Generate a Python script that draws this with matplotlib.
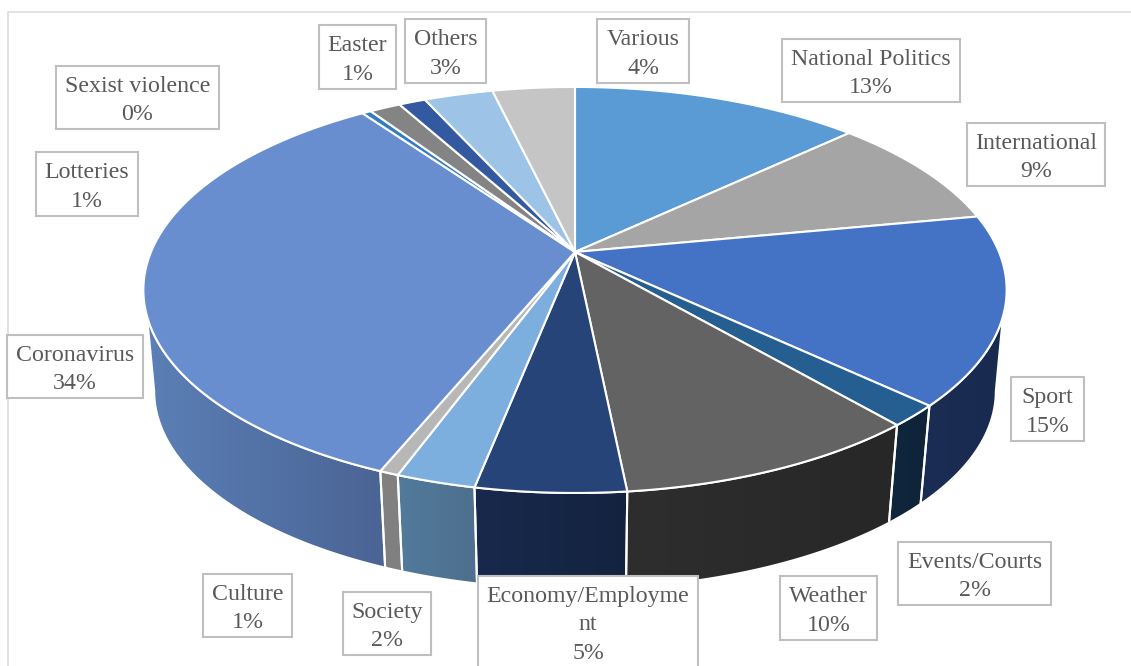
import numpy as np
import matplotlib
matplotlib.use('Agg')
import matplotlib.pyplot as plt
from matplotlib.patches import Polygon, Rectangle
from matplotlib.colors import to_rgb

plt.rcParams['font.family'] = ['Liberation Serif', 'DejaVu Serif']

# Slices, clockwise from 12 o'clock
categories = ['National Politics', 'International', 'Sport', 'Events/Courts', 'Weather',
              'Economy/Employme\nnt', 'Society', 'Culture', 'Coronavirus', 'Sexist violence',
              'Lotteries', 'Easter', 'Others', 'Various']
shares = [13.0, 9.0, 15.0, 1.7, 9.7, 4.7, 2.5, 0.6, 34.0, 0.4, 1.4, 1.2, 3.1, 3.7]

top_colors = ['#5b9bd5', '#a5a5a5', '#4472c4', '#255e91', '#636363', '#264478', '#7cafdd',
              '#b7b7b7', '#698ed0', '#327dc2', '#848484', '#335aa1', '#9dc3e6', '#c5c5c5']
wall_left = ['#3c6a94', '#707070', '#1b2d54', '#10263c', '#2e2e2e', '#18294d', '#527a9b',
             '#808080', '#5b7fb6', '#245a8a', '#5a5a5a', '#223d6e', '#6c86a0', '#888888']
wall_right = ['#3c6a94', '#707070', '#182a4e', '#0f2439', '#272727', '#13233f', '#4e6f8e',
              '#808080', '#4a6494', '#245a8a', '#5a5a5a', '#223d6e', '#6c86a0', '#888888']

# label boxes in pixels: left, top, right, bottom
label_boxes = [(782, 39, 960, 102), (967, 123, 1105, 186), (1011, 377, 1084, 441),
               (898, 542, 1051, 605), (780, 576, 877, 640), (478, 576, 698, 668),
               (343, 592, 431, 655), (203, 574, 292, 637), (7, 335, 143, 398),
               (56, 66, 219, 129), (36, 152, 138, 216), (319, 25, 396, 89),
               (405, 19, 486, 83), (597, 19, 689, 83)]

# perspective of the pie disc
CX, CY = 575.0, 252.0
SX, SY, PERSP = 424.0, 195.9, 0.187
# lower rim is the upper rim scaled and moved down
RIM_SCALE, RIM_Y = 0.975, 354.0
# visible part of the wall, degrees
TOP_VIS = (108.0, 252.0)
BOT_VIS = (100.8, 259.2)


def top_rim(t):
    t = np.radians(t)
    d = 1 + PERSP * np.cos(t)
    return CX + SX * np.sin(t) / d, CY - SY * np.cos(t) / d


def low_rim(t):
    x, y = top_rim(t)
    return CX + RIM_SCALE * (x - CX), RIM_Y + RIM_SCALE * (y - CY)


def sweep(a, b, lim):
    a, b = max(a, lim[0]), min(b, lim[1])
    if a >= b:
        return None
    return np.linspace(a, b, max(int(b - a) * 3, 2))


fig = plt.figure(figsize=(11.31, 6.66), dpi=100)
ax = fig.add_axes([0, 0, 1, 1])
ax.axis('off')

# chart frame, cut by the image on the right and bottom
ax.add_patch(Rectangle((7.5, 11.5), 1200, 700, fc='white', ec='#d9d9d9', lw=1.1, zorder=0))

edges = np.cumsum([0] + shares) / sum(shares) * 360

# walls
for i in range(len(shares)):
    a, b = edges[i], edges[i + 1]
    tt = sweep(a, b, TOP_VIS)
    bb = sweep(a, b, BOT_VIS)
    if tt is None or bb is None:
        continue
    xt, yt = top_rim(tt)
    xb, yb = low_rim(bb[::-1])
    pts = np.column_stack([np.r_[xt, xb], np.r_[yt, yb]])
    shape = Polygon(pts, closed=True, fc='none', ec='none', transform=ax.transData)
    ax.add_patch(shape)
    c1, c2 = np.array(to_rgb(wall_left[i])), np.array(to_rgb(wall_right[i]))
    grad = np.linspace(0, 1, 64)[:, None]
    img = (c1 + (c2 - c1) * grad)[None, :, :]
    im = ax.imshow(img, extent=(pts[:, 0].min(), pts[:, 0].max(), pts[:, 1].max(), pts[:, 1].min()),
                   aspect='auto', interpolation='bilinear', zorder=1)
    im.set_clip_path(shape)
    ax.add_patch(Polygon(pts, closed=True, fc='none', ec='white', lw=1.5, zorder=2, joinstyle='round'))

# top of the pie
for i in range(len(shares)):
    tt = np.linspace(edges[i], edges[i + 1], max(int(shares[i] * 6), 3))
    x, y = top_rim(tt)
    pts = np.column_stack([np.r_[CX, x], np.r_[CY, y]])
    ax.add_patch(Polygon(pts, closed=True, fc=top_colors[i], ec='white', lw=1.5, zorder=3, joinstyle='round'))

# data labels
for name, val, box in zip(categories, shares, label_boxes):
    l, t, r, b = box
    ax.add_patch(Rectangle((l, t), r - l, b - t, fc='white', ec='#bfbfbf', lw=1.5, zorder=4))
    ax.text((l + r) / 2, (t + b) / 2 + 3, f'{name}\n{round(val)}%', ha='center', va='center',
            fontsize=17.2, color='#595959', linespacing=1.46, zorder=5)

ax.set_xlim(0, 1131)
ax.set_ylim(666, 0)
fig.savefig('out.png', dpi=100)
